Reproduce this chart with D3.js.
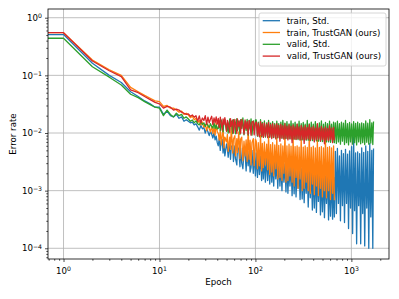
<!DOCTYPE html>
<html>
<head>
<meta charset="utf-8">
<script src="https://cdnjs.cloudflare.com/ajax/libs/d3/7.8.5/d3.min.js"></script>
<style>
  body { margin: 0; background: #fff; }
  svg { display: block; font-family: "DejaVu Sans", sans-serif; }
</style>
</head>
<body>
<div id="chart"></div>
<script>
// epochs (dense part read about one per pixel)
var epochs = [
    1, 2, 3, 4, 5, 6, 7, 8, 9, 10, 11, 12, 13, 14, 15, 16, 17, 18, 19,
    20, 21, 22, 23, 24, 25, 26, 27, 28, 29, 30, 31, 32, 33, 34, 35, 36, 37, 38, 39, 40,
    41, 42, 43, 44, 45, 46, 47, 48, 50, 51,
    52, 54, 55, 56, 58, 59, 61, 62, 64, 65,
    67, 69, 70, 72, 74, 76, 78, 80, 82, 84,
    86, 88, 90, 92, 95, 97, 100,
    102, 105, 107, 110, 113, 116, 118, 121, 124, 127,
    131, 134, 137, 141, 144, 148, 151, 155, 159, 163,
    167, 171, 175, 180, 184, 189, 193, 198, 203, 208,
    213, 218, 224, 229, 235, 241, 247, 253, 259, 265,
    272, 278, 285, 292, 300, 307, 315, 322, 330, 338,
    347, 355, 364, 373, 382, 392, 401, 411, 421, 432,
    442, 453, 464, 476, 487, 499, 512, 524, 537, 550,
    564, 578, 592, 606, 621, 637, 652, 665,
    681, 698, 715, 733, 751, 769, 788, 807, 827, 848,
    868, 890, 912, 934, 957, 980, 1005, 1030, 1055, 1080,
    1107, 1134, 1162, 1191, 1220, 1250, 1281, 1312, 1344, 1377,
    1411, 1446, 1481, 1518, 1555, 1593, 1632, 1672, 1700
];

var trainStd = [
    .51, .162, .10, .075, .052, .043, .036, .032, .028, .028, .021, .024, .020, .019, .021, .018, .019, .016, .017,
    .0160, .0150, .0155, .0138, .0145, .0128, .0112, .0135, .0118, .0125, .0100, .0118, .0105, .0090, .0108, .0095, .0082, .0100, .0076, .0088, .0068,
    .0060, .0082, .0050, .0072, .0078, .0045, .0070, .0040, .0065, .0055,
    .0038, .0068, .0035, .0058, .0062, .0032, .0060, .0036, .0028, .0058,
    .0052, .0026, .0055, .0030, .0024, .0050, .0046, .0022, .0052, .0027,
    .0048, .0021, .0025, .0050, .0020, .0046, .0018,
    .0045, .0017, .0043, .0019, .0040, .0015, .0044, .0016, .0038, .0014,
    .0041, .0015, .0036, .0013, .0039, .0014, .0034, .0012, .0036, .0016,
    .0032, .0011, .0035, .0012, .0030, .0010, .0032, .0014, .0029, .00095,
    .0031, .0009, .0027, .0012, .0029, .00082, .0026, .00088, .0027, .00078,
    .0025, .0011, .0026, .00070, .0024, .00072, .0025, .00062, .0023, .00090,
    .0024, .00052, .0022, .00075, .0023, .00046, .0021, .00050, .0022, .00042,
    .0020, .00065, .0021, .00038, .0019, .00043, .0020, .00034, .0018, .00060,
    .0019, .00031, .0017, .00036, .0018, .00032, .0017, .00035,
    .0048, .00040, .0054, .00060, .0040, .00030, .0050, .00055, .0044, .00028,
    .0052, .00060, .0043, .00022, .0049, .00050, .0058, .00018, .0086, .00045,
    .0045, .00012, .0047, .00055, .0044, .00012, .0055, .00040, .0046, .00011,
    .0060, .00050, .0048, .00010, .0066, .00035, .0050, .00010, .0054
];

var trainTrust = [
    .55, .184, .125, .10, .062, .052, .045, .040, .036, .035, .029, .030, .027, .027, .025, .023, .024, .021, .022,
    .0205, .0185, .0195, .0170, .0180, .0150, .0165, .0138, .0155, .0125, .0142, .0110, .0138, .0118, .0105, .0132, .0098, .0125, .0092, .0150, .0105,
    .0098, .0075, .0110, .0062, .0090, .0125, .0055, .0085, .0070, .0095,
    .0048, .0085, .0052, .0130, .0045, .0078, .0090, .0040, .0080, .0046,
    .0105, .0036, .0078, .0085, .0033, .0072, .0040, .0076, .0032, .0120,
    .0035, .0075, .0028, .0068, .0080, .0027, .0078,
    .0072, .0024, .0068, .0027, .0092, .0022, .0066, .0025, .0070, .0028,
    .0064, .0023, .0088, .0019, .0063, .0021, .0068, .0018, .0062, .0024,
    .0082, .0016, .0061, .0017, .0065, .0015, .0060, .0020, .0095, .0014,
    .0060, .0015, .0064, .0018, .0059, .0014, .0085, .0012, .0058, .0017,
    .0060, .0011, .0057, .0016, .0078, .0010, .0057, .0011, .0060, .0014,
    .0056, .0010, .0100, .00090, .0056, .0013, .0059, .00085, .0055, .0012,
    .0075, .00082, .0056, .0011, .0058, .00078, .0055, .0010, .0082, .00075,
    .0056, .0010, .0058, .00070, .0055, .0009, .0060, .00068,
    null, null, null, null, null, null, null, null, null, null,
    null, null, null, null, null, null, null, null, null, null,
    null, null, null, null, null, null, null, null, null, null,
    null, null, null, null, null, null, null, null, null
];

var validStd = [
    .44, .141, .093, .068, .047, .041, .035, .031, .028, .027, .020, .025, .021, .019, .022, .020, .021, .018, .019,
    .0175, .0160, .0168, .0150, .0162, .0145, .0138, .0158, .0140, .0150, .0130, .0148, .0135, .0125, .0145, .0130, .0122, .0150, .0120, .0138, .0118,
    .0120, .0160, .0110, .0168, .0140, .0105, .0158, .0172, .0108, .0150,
    .0100, .0175, .0130, .0162, .0098, .0170, .0125, .0097, .0178, .0110,
    .0162, .0095, .0170, .0120, .0182, .0093, .0160, .0110, .0172, .0092,
    .0165, .0118, .0176, .0092, .0162, .0112, .0168,
    .0168, .0088, .0155, .0087, .0170, .0086, .0152, .0086, .0162, .0085,
    .0150, .0085, .0165, .0084, .0148, .0084, .0158, .0083, .0146, .0083,
    .0160, .0082, .0145, .0082, .0155, .0081, .0165, .0081, .0148, .0080,
    .0158, .0080, .0144, .0079, .0162, .0079, .0146, .0078, .0155, .0078,
    .0143, .0077, .0160, .0077, .0145, .0076, .0152, .0076, .0142, .0075,
    .0165, .0075, .0144, .0074, .0155, .0074, .0142, .0073, .0158, .0073,
    .0143, .0072, .0150, .0072, .0162, .0071, .0142, .0071, .0152, .0070,
    .0145, .0070, .0160, .0069, .0143, .0069, .0155, .0068,
    .0150, .0066, .0160, .0070, .0145, .0064, .0155, .0072, .0148, .0063,
    .0165, .0068, .0146, .0062, .0152, .0070, .0144, .0064, .0158, .0068,
    .0147, .0062, .0155, .0070, .0145, .0065, .0150, .0068, .0146, .0063,
    .0162, .0069, .0148, .0064, .0170, .0067, .0150, .0063, .0158
];

var validTrust = [
    .55, .177, .12, .095, .056, .050, .043, .038, .034, .032, .027, .029, .028, .025, .026, .025, .023, .022, .021,
    .0215, .0195, .0205, .0188, .0200, .0160, .0198, .0150, .0182, .0165, .0200, .0142, .0188, .0150, .0175, .0195, .0140, .0182, .0150, .0190, .0142,
    .0180, .0125, .0188, .0150, .0112, .0176, .0140, .0185, .0108, .0165,
    .0150, .0102, .0178, .0130, .0168, .0100, .0172, .0145, .0098, .0175,
    .0130, .0162, .0099, .0172, .0140, .0096, .0168, .0118, .0158, .0094,
    .0165, .0135, .0092, .0155, .0160, .0093, .0150,
    .0155, .0090, .0148, .0086, .0158, .0089, .0145, .0084, .0150, .0088,
    .0142, .0083, .0152, .0086, .0140, .0080, .0146, .0085, .0138, .0079,
    .0145, .0084, .0136, .0072, .0142, .0082, .0134, .0078, .0145, .0081,
    .0132, .0076, .0140, .0080, .0130, .0068, .0138, .0079, .0128, .0077,
    .0142, .0080, .0127, .0075, .0135, .0078, .0126, .0066, .0136, .0077,
    .0125, .0079, .0140, .0074, .0124, .0078, .0132, .0070, .0123, .0076,
    .0145, .0078, .0122, .0072, .0130, .0077, .0121, .0065, .0128, .0076,
    .0120, .0074, .0134, .0077, .0121, .0068, .0125, .0075,
    null, null, null, null, null, null, null, null, null, null,
    null, null, null, null, null, null, null, null, null, null,
    null, null, null, null, null, null, null, null, null, null,
    null, null, null, null, null, null, null, null, null
];

var seriesNames = ["train, Std.", "train, TrustGAN (ours)", "valid, Std.", "valid, TrustGAN (ours)"];
var seriesValues = [trainStd, trainTrust, validStd, validTrust];
var xTickExps = [0, 1, 2, 3];
var yTickExps = [0, -1, -2, -3, -4];

var colors = ["#1f77b4", "#ff7f0e", "#2ca02c", "#d62728"];

var svgWidth = 399, svgHeight = 299;
var margin = {top: 9, right: 10, bottom: 40, left: 48},
    width = svgWidth - margin.left - margin.right,
    height = svgHeight - margin.top - margin.bottom;

var x = d3.scaleLog().domain([0.689, 2466]).range([0, width]);
var y = d3.scaleLog().domain([6.52e-5, 1.416]).range([height, 0]);

var svg = d3.select("#chart").append("svg")
    .attr("width", svgWidth)
    .attr("height", svgHeight);

var g = svg.append("g")
    .attr("transform", "translate(" + margin.left + "," + margin.top + ")");

svg.append("defs").append("clipPath").attr("id", "plot-clip")
  .append("rect").attr("width", width).attr("height", height);

// minor tick values (2..9 x 10^k) inside the domain
function minorTicks(scale) {
    var d = scale.domain(), out = [];
    for (var k = Math.floor(Math.log10(d[0])); k <= Math.ceil(Math.log10(d[1])); k++) {
        for (var m = 2; m <= 9; m++) {
            var v = m * Math.pow(10, k);
            if (v >= d[0] && v <= d[1]) out.push(v);
        }
    }
    return out;
}

var xMajor = xTickExps.map(e => Math.pow(10, e)),
    yMajor = yTickExps.map(e => Math.pow(10, e));

// grid
g.append("g").selectAll("line").data(xMajor).join("line")
    .attr("x1", d => x(d)).attr("x2", d => x(d))
    .attr("y1", 0).attr("y2", height)
    .attr("stroke", "#b0b0b0").attr("stroke-width", 0.8);
g.append("g").selectAll("line").data(yMajor).join("line")
    .attr("y1", d => y(d)).attr("y2", d => y(d))
    .attr("x1", 0).attr("x2", width)
    .attr("stroke", "#b0b0b0").attr("stroke-width", 0.8);

// lines - first point extended to the left edge (epoch 0 clipped off in log scale)
var line = d3.line()
    .defined(d => d[1] != null)
    .x(d => x(d[0]))
    .y(d => y(d[1]));

var linesG = g.append("g").attr("clip-path", "url(#plot-clip)");
seriesValues.forEach(function(vals, i) {
    if (vals.length !== epochs.length) console.warn(seriesNames[i], vals.length, epochs.length);
    var pts = [[x.domain()[0], vals[0]]].concat(epochs.map((e, j) => [e, vals[j]]));
    linesG.append("path")
        .datum(pts)
        .attr("d", line)
        .attr("fill", "none")
        .attr("stroke", colors[i])
        .attr("stroke-width", 1.3)
        .attr("stroke-linejoin", "round");
});

// axes
var xAxis = g.append("g").attr("transform", "translate(0," + height + ")")
    .call(d3.axisBottom(x).tickValues(xMajor).tickSize(3).tickFormat(""));
var xMinor = g.append("g").attr("transform", "translate(0," + height + ")")
    .call(d3.axisBottom(x).tickValues(minorTicks(x)).tickSize(1.7).tickFormat(""));
var yAxis = g.append("g")
    .call(d3.axisLeft(y).tickValues(yMajor).tickSize(3).tickFormat(""));
var yMinor = g.append("g")
    .call(d3.axisLeft(y).tickValues(minorTicks(y)).tickSize(1.7).tickFormat(""));

[xAxis, xMinor, yAxis, yMinor].forEach(function(a) {
    a.select(".domain").remove();
    a.selectAll(".tick line").attr("stroke", "#000").attr("stroke-width", 0.7);
});

// tick labels 10^k
function powLabel(sel, exp) {
    sel.append("tspan").text("10");
    sel.append("tspan").attr("dy", "-0.45em").attr("font-size", "6.2px")
        .text(String(exp).replace("-", "\u2212"));
}

g.append("g").selectAll("text").data(xTickExps).join("text")
    .attr("x", d => x(Math.pow(10, d)))
    .attr("y", height + 15)
    .attr("text-anchor", "middle")
    .attr("font-size", "8.65px")
    .each(function(d) { powLabel(d3.select(this), d); });

g.append("g").selectAll("text").data(yTickExps).join("text")
    .attr("x", -6)
    .attr("y", d => y(Math.pow(10, d)) + 3.2)
    .attr("text-anchor", "end")
    .attr("font-size", "8.65px")
    .each(function(d) { powLabel(d3.select(this), d); });

// frame
g.append("rect")
    .attr("width", width).attr("height", height)
    .attr("fill", "none").attr("stroke", "#000").attr("stroke-width", 0.8);

// axis labels
svg.append("text")
    .attr("x", margin.left + width / 2)
    .attr("y", 285)
    .attr("text-anchor", "middle")
    .attr("font-size", "8.65px")
    .text("Epoch");

svg.append("text")
    .attr("transform", "translate(16," + (margin.top + height / 2) + ") rotate(-90)")
    .attr("text-anchor", "middle")
    .attr("font-size", "8.65px")
    .text("Error rate");

// legend
var legend = svg.append("g").attr("transform", "translate(259,13)");
legend.append("rect")
    .attr("width", 127).attr("height", 53)
    .attr("rx", 2)
    .attr("fill", "#fff").attr("fill-opacity", 0.8)
    .attr("stroke", "#cccccc").attr("stroke-width", 0.8);

var items = legend.selectAll("g.item").data(seriesNames).join("g")
    .attr("class", "item")
    .attr("transform", (d, i) => "translate(0," + (7.7 + i * 11.8) + ")");
items.append("line")
    .attr("x1", 3.7).attr("x2", 21)
    .attr("stroke", (d, i) => colors[i])
    .attr("stroke-width", 1.3);
items.append("text")
    .attr("x", 27.7).attr("y", 3)
    .attr("font-size", "8.65px")
    .text(d => d);
</script>
</body>
</html>
